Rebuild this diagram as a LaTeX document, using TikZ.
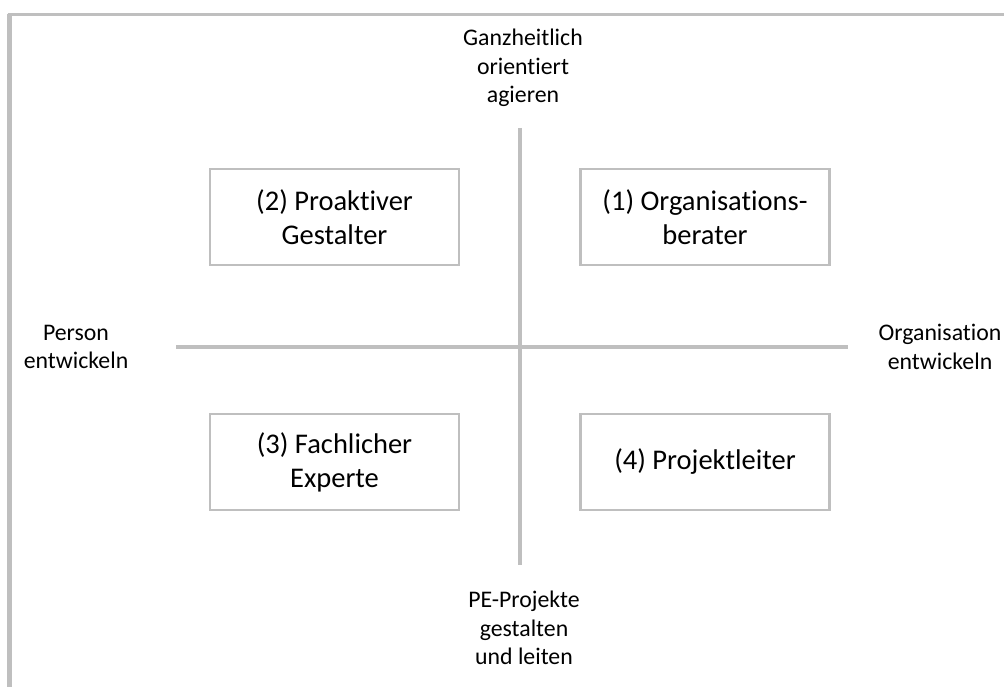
\documentclass[tikz,border=0pt]{standalone}
\usepackage{fontspec}
\setmainfont{Carlito}[Ligatures={NoCommon,NoDiscretionary,NoRequired}]
\begin{document}
\begin{tikzpicture}[x=1pt,y=-1pt,
  frameline/.style={draw=linegray,line width=4pt},
  axisline/.style={draw=linegray,line width=4pt},
  rolebox/.style={draw=linegray,line width=2.5pt,minimum width=249pt,minimum height=96pt,inner sep=0pt,align=center,font=\fontsize{28.5}{34}\selectfont},
  axislabel/.style={inner sep=0pt,align=center,font=\fontsize{23.8}{28.5}\selectfont}]
\definecolor{linegray}{HTML}{BFBFBF}
\useasboundingbox (0,0) rectangle (1004,687);
% partial frame: top and left edges
\coordinate (ftl) at (9.5,14.5);
\coordinate (ftr) at (1004,14.5);
\coordinate (fbl) at (9.5,687);
\draw[frameline,line width=3pt] (7.5,14.5) -- (ftr);
\draw[frameline,line width=5pt] (ftl) -- (fbl);
% axes
\coordinate (vtop) at (520,128);
\coordinate (vbot) at (520,565);
\coordinate (hleft) at (176,347);
\coordinate (hright) at (848,347);
\draw[axisline] (vtop) -- (vbot);
\draw[axisline] (hleft) -- (hright);
% quadrant roles
\node[rolebox] (r2) at (334.5,217) {(2) Proaktiver\\Gestalter};
\node[rolebox] (r1) at (705,217) {(1) Organisations-\\berater};
\node[rolebox] (r3) at (334.5,462) {(3) Fachlicher\\Experte};
\node[rolebox] (r4) at (705,462) {(4) Projektleiter};
% axis labels
\node[axislabel] (ltop) at (523,68) {Ganzheitlich\\orientiert\\agieren};
\node[axislabel] (lleft) at (76,347) {Person\\entwickeln};
\node[axislabel] (lright) at (940,347) {Organisation\\entwickeln};
\node[axislabel] (lbot) at (524,628) {PE-Projekte\\gestalten\\und leiten};
\end{tikzpicture}
\end{document}
